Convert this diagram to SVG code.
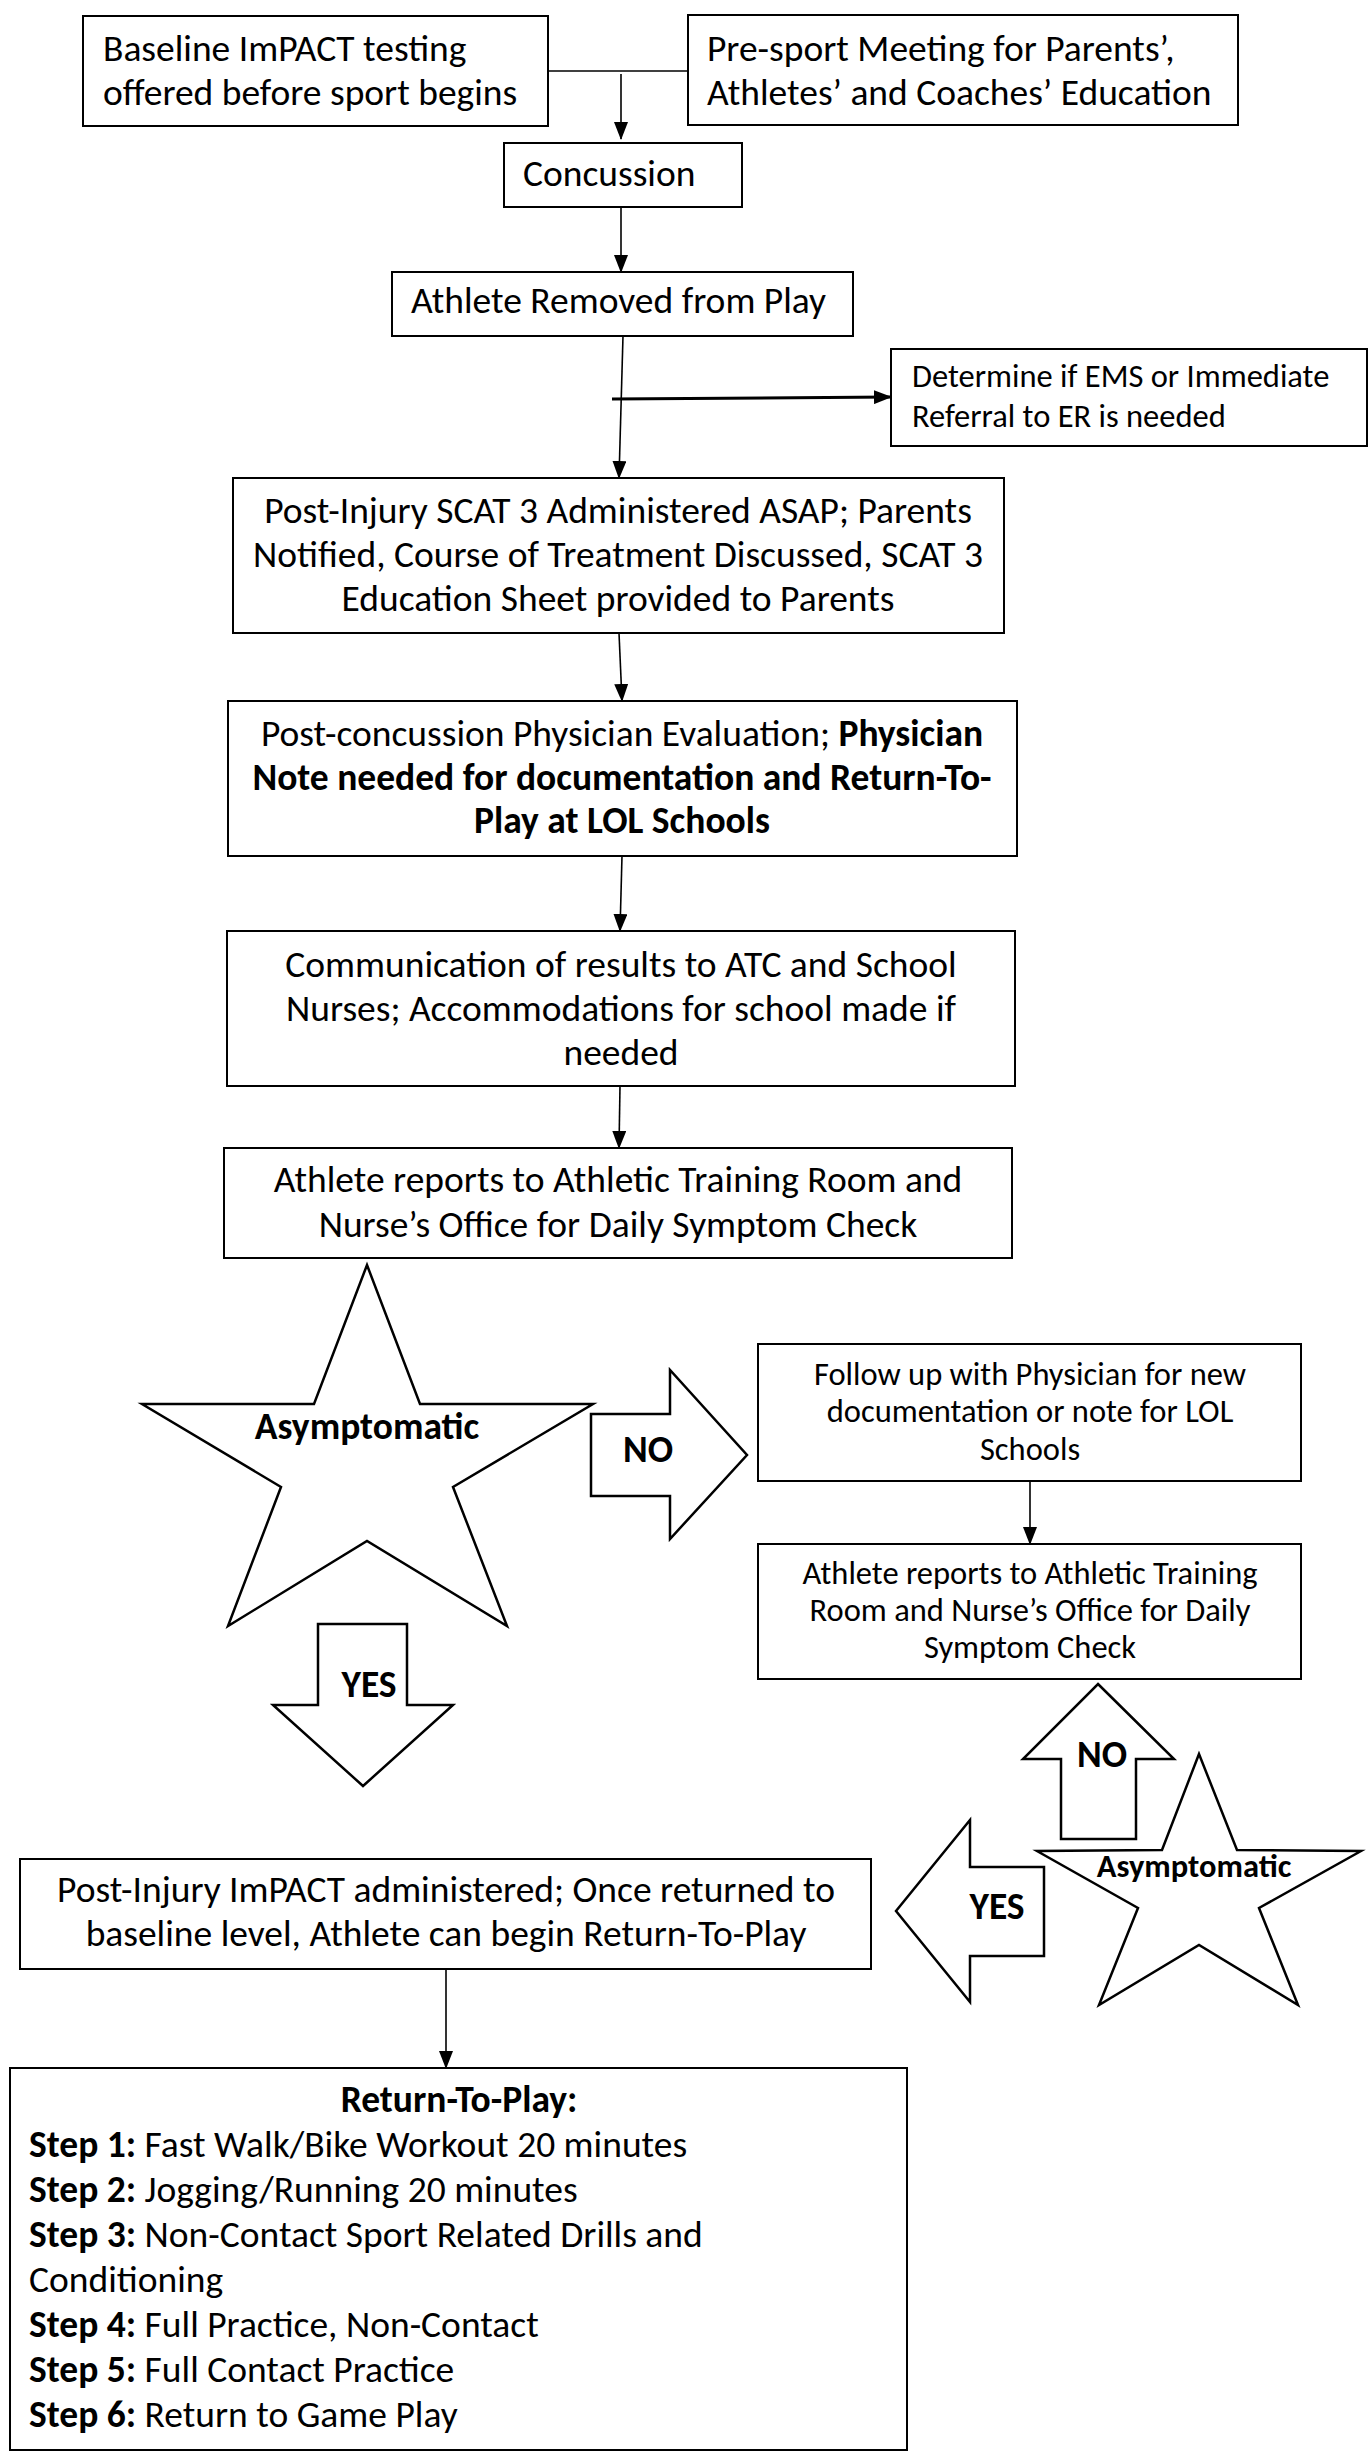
<svg xmlns="http://www.w3.org/2000/svg" width="1369" height="2458" viewBox="0 0 1369 2458">
<defs>
<marker id="ah" markerUnits="userSpaceOnUse" markerWidth="18" markerHeight="14" refX="17" refY="7" orient="auto">
<path d="M0,0 L18,7 L0,14 Z" fill="#000"/>
</marker>
<style>
.box{fill:#fff;stroke:#000;stroke-width:2}
.shape{fill:#fff;stroke:#000;stroke-width:2.5;stroke-linejoin:miter}
.t{font-family:Carlito,Lato,"Liberation Sans",sans-serif;font-size:37.5px;fill:#000}
.s{font-size:32.5px}
.c{text-anchor:middle}
.b{font-weight:bold}
.ln{fill:none;stroke:#000;stroke-width:1.6}
.lnt{fill:none;stroke:#000;stroke-width:3}
</style>
</defs>
<rect width="1369" height="2458" fill="#fff"/>

<g id="connectors">
<line class="ln" x1="548" y1="71" x2="688" y2="71"/>
<line class="ln" x1="621" y1="74" x2="621" y2="139" marker-end="url(#ah)"/>
<line class="ln" x1="621" y1="207" x2="621" y2="272" marker-end="url(#ah)"/>
<line class="ln" x1="623" y1="336" x2="619" y2="478" marker-end="url(#ah)"/>
<line class="lnt" x1="612" y1="399" x2="891" y2="397" marker-end="url(#ah)"/>
<line class="ln" x1="619" y1="633" x2="622" y2="701" marker-end="url(#ah)"/>
<line class="ln" x1="622" y1="856" x2="620" y2="931" marker-end="url(#ah)"/>
<line class="ln" x1="620" y1="1086" x2="619" y2="1148" marker-end="url(#ah)"/>
<line class="ln" x1="1030" y1="1481" x2="1030" y2="1544" marker-end="url(#ah)"/>
<line class="ln" x1="446" y1="1969" x2="446" y2="2068" marker-end="url(#ah)"/>
</g>

<g id="baseline">
<rect class="box" x="83" y="16" width="465" height="110"/>
<text class="t" x="103" y="61">Baseline ImPACT testing</text>
<text class="t" x="103" y="105">offered before  sport begins</text>
</g>

<g id="presport">
<rect class="box" x="688" y="15" width="550" height="110"/>
<text class="t" x="707" y="61">Pre-sport Meeting for Parents’,</text>
<text class="t" x="707" y="105">Athletes’ and Coaches’ Education</text>
</g>

<g id="concussion">
<rect class="box" x="504" y="143" width="238" height="64"/>
<text class="t" x="523" y="186">Concussion</text>
</g>

<g id="removed">
<rect class="box" x="392" y="272" width="461" height="64"/>
<text class="t" x="411" y="313">Athlete Removed from Play</text>
</g>

<g id="ems">
<rect class="box" x="891" y="349" width="476" height="97"/>
<text class="t s" x="912" y="387">Determine if EMS or Immediate</text>
<text class="t s" x="912" y="427">Referral to ER is needed</text>
</g>

<g id="scat">
<rect class="box" x="233" y="478" width="771" height="155"/>
<text class="t c" x="618" y="523">Post-Injury SCAT 3 Administered ASAP; Parents</text>
<text class="t c" x="618" y="567">Notified, Course of Treatment Discussed, SCAT 3</text>
<text class="t c" x="618" y="611">Education Sheet provided to Parents</text>
</g>

<g id="physician">
<rect class="box" x="228" y="701" width="789" height="155"/>
<text class="t c" x="622" y="746">Post-concussion Physician Evaluation; <tspan class="b">Physician</tspan></text>
<text class="t c b" x="622" y="790">Note needed for documentation and Return-To-</text>
<text class="t c b" x="622" y="833">Play at LOL Schools</text>
</g>

<g id="communication">
<rect class="box" x="227" y="931" width="788" height="155"/>
<text class="t c" x="621" y="977">Communication of results to ATC and School</text>
<text class="t c" x="621" y="1021">Nurses; Accommodations for school made if</text>
<text class="t c" x="621" y="1065">needed</text>
</g>

<g id="reports1">
<rect class="box" x="224" y="1148" width="788" height="110"/>
<text class="t c" x="618" y="1192">Athlete reports to Athletic Training Room and</text>
<text class="t c" x="618" y="1237">Nurse’s Office for Daily Symptom Check</text>
</g>

<g id="star1">
<polygon class="shape" points="367,1265 420,1404 593,1404 453,1487 507,1626 367,1541 228,1626 281,1487 142,1404 314,1404"/>
<text class="t c b" x="367" y="1439">Asymptomatic</text>
</g>

<g id="no-arrow-right">
<polygon class="shape" points="591,1414 670,1414 670,1370 747,1455 670,1539 670,1496 591,1496"/>
<text class="t c b" x="648" y="1462">NO</text>
</g>

<g id="followup">
<rect class="box" x="758" y="1344" width="543" height="137"/>
<text class="t s c" x="1030" y="1385">Follow up with Physician for new</text>
<text class="t s c" x="1030" y="1422">documentation or note for LOL</text>
<text class="t s c" x="1030" y="1460">Schools</text>
</g>

<g id="reports2">
<rect class="box" x="758" y="1544" width="543" height="135"/>
<text class="t s c" x="1030" y="1584">Athlete reports to Athletic Training</text>
<text class="t s c" x="1030" y="1621">Room and Nurse’s Office for Daily</text>
<text class="t s c" x="1030" y="1658">Symptom Check</text>
</g>

<g id="yes-arrow-down">
<polygon class="shape" points="318,1624 407,1624 407,1705 453,1705 363,1786 273,1705 318,1705"/>
<text class="t c b" x="369" y="1697">YES</text>
</g>

<g id="no-arrow-up">
<polygon class="shape" points="1098,1684 1174,1759 1136,1759 1136,1839 1061,1839 1061,1759 1023,1759"/>
<text class="t c b" x="1102" y="1767">NO</text>
</g>

<g id="star2">
<polygon class="shape" points="1199,1754 1237,1850 1361,1851 1259,1908 1298,2005 1199,1945 1099,2005 1138,1908 1037,1851 1162,1850"/>
<text class="t s c b" x="1194" y="1877">Asymptomatic</text>
</g>

<g id="yes-arrow-left">
<polygon class="shape" points="896,1911 970,1820 970,1867 1044,1867 1044,1956 970,1956 970,2002"/>
<text class="t c b" x="997" y="1919">YES</text>
</g>

<g id="impact">
<rect class="box" x="20" y="1859" width="851" height="110"/>
<text class="t c" x="446" y="1902">Post-Injury ImPACT administered; Once returned to</text>
<text class="t c" x="446" y="1946">baseline level, Athlete can begin Return-To-Play</text>
</g>

<g id="rtp">
<rect class="box" x="10" y="2068" width="897" height="382"/>
<text class="t c b" x="459" y="2112">Return-To-Play:</text>
<text class="t" x="29" y="2157"><tspan class="b">Step 1:</tspan> Fast Walk/Bike Workout 20 minutes</text>
<text class="t" x="29" y="2202"><tspan class="b">Step 2:</tspan> Jogging/Running 20 minutes</text>
<text class="t" x="29" y="2247"><tspan class="b">Step 3:</tspan> Non-Contact Sport Related Drills and</text>
<text class="t" x="29" y="2292">Conditioning</text>
<text class="t" x="29" y="2337"><tspan class="b">Step 4:</tspan> Full Practice, Non-Contact</text>
<text class="t" x="29" y="2382"><tspan class="b">Step 5:</tspan> Full Contact Practice</text>
<text class="t" x="29" y="2427"><tspan class="b">Step 6:</tspan> Return to Game Play</text>
</g>
</svg>
